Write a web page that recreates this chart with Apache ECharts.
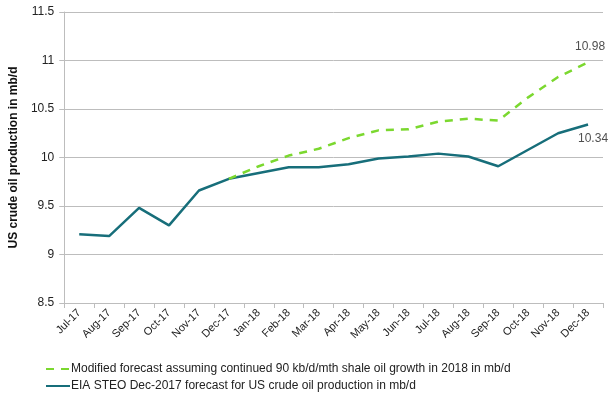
<!DOCTYPE html>
<html>
<head>
<meta charset="utf-8">
<script src="https://cdn.jsdelivr.net/npm/echarts@6/dist/echarts.min.js"></script>
<style>
  html, body { margin: 0; padding: 0; background: #fff; }
  #chart { width: 612px; height: 398px; }
</style>
</head>
<body>
<div id="chart"></div>
<script>
// months on the x axis
const months = ['Jul-17', 'Aug-17', 'Sep-17', 'Oct-17', 'Nov-17', 'Dec-17',
  'Jan-18', 'Feb-18', 'Mar-18', 'Apr-18', 'May-18', 'Jun-18',
  'Jul-18', 'Aug-18', 'Sep-18', 'Oct-18', 'Nov-18', 'Dec-18'];

// EIA STEO Dec-2017 forecast (mb/d)
const eiaForecast = [9.21, 9.19, 9.48, 9.30, 9.66, 9.78,
  9.84, 9.90, 9.90, 9.93, 9.99, 10.01,
  10.04, 10.01, 9.91, 10.08, 10.25, 10.34];

// modified forecast, starts at Dec-17
const modifiedForecast = [null, null, null, null, null, 9.78,
  9.91, 10.02, 10.09, 10.20, 10.28, 10.29,
  10.37, 10.40, 10.38, 10.62, 10.83, 10.98];

const nameModified = 'Modified forecast assuming continued 90 kb/d/mth shale oil growth in 2018 in mb/d';
const nameEia = 'EIA STEO Dec-2017 forecast for US crude oil production in mb/d';

const chart = echarts.init(document.getElementById('chart'));

// only label the last point of each line
const lastLabel = (arr) => arr.map((v, i) => (i === arr.length - 1 ? v : null));

chart.setOption({
  animation: false,
  textStyle: { fontFamily: 'Liberation Sans, Arial, sans-serif' },
  grid: { left: 61, right: 9, top: 12, bottom: 95 },
  legend: {
    orient: 'vertical',
    left: 40,
    top: 358,
    itemGap: 5,
    itemWidth: 24,
    itemHeight: 10,
    itemStyle: { opacity: 0 },
    textStyle: { fontSize: 12, color: '#222', padding: [0, 0, 0, -4] },
    data: [nameModified, nameEia]
  },
  xAxis: {
    type: 'category',
    data: months,
    boundaryGap: true,
    axisLine: { lineStyle: { color: '#bdbdbd' } },
    axisTick: { show: true, length: 5, lineStyle: { color: '#bdbdbd' } },
    axisLabel: { rotate: 45, fontSize: 11, color: '#222', interval: 0, margin: 8 }
  },
  yAxis: {
    type: 'value',
    min: 8.5,
    max: 11.5,
    interval: 0.5,
    name: 'US crude oil production in mb/d',
    nameLocation: 'middle',
    nameGap: 36,
    nameTextStyle: { fontWeight: 'bold', fontSize: 12, color: '#111' },
    axisLine: { show: true, lineStyle: { color: '#bdbdbd' } },
    axisTick: { show: true, length: 5, lineStyle: { color: '#bdbdbd' } },
    axisLabel: { fontSize: 12, color: '#222', margin: 10 },
    splitLine: { lineStyle: { color: '#bdbdbd' } }
  },
  series: [
    {
      name: nameModified,
      type: 'line',
      data: modifiedForecast,
      symbol: 'none',
      color: '#7bd82f',
      lineStyle: { color: '#7bd82f', width: 2.5, type: [8, 7] },
      z: 3
    },
    {
      name: nameEia,
      type: 'line',
      data: eiaForecast,
      symbol: 'none',
      color: '#176e7a',
      lineStyle: { color: '#176e7a', width: 2.5 },
      z: 2
    },
    {
      type: 'scatter',
      data: lastLabel(modifiedForecast),
      symbolSize: 0,
      silent: true,
      label: { show: true, position: 'top', distance: 10, offset: [2, 0],
        fontSize: 12, color: '#222', formatter: (p) => p.value.toFixed(2) }
    },
    {
      type: 'scatter',
      data: lastLabel(eiaForecast),
      symbolSize: 0,
      silent: true,
      label: { show: true, position: 'bottom', distance: 8, offset: [5, 0],
        fontSize: 12, color: '#222', formatter: (p) => p.value.toFixed(2) }
    }
  ]
});
</script>
</body>
</html>
